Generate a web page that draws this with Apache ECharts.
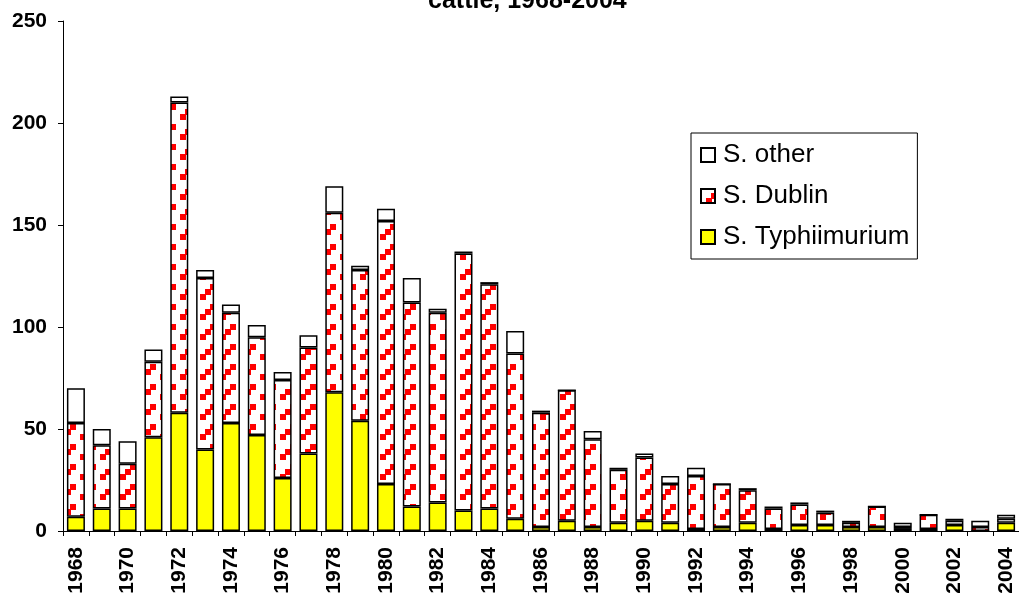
<!DOCTYPE html>
<html>
<head>
<meta charset="utf-8">
<script src="https://cdn.jsdelivr.net/npm/echarts@6/dist/echarts.min.js"></script>
<style>
  html, body { margin: 0; padding: 0; background: #fff; }
  #chart { width: 1019px; height: 598px; }
</style>
</head>
<body>
<div id="chart"></div>
<script>
// years on the x axis
const years = [
  '1968', '1969', '1970', '1971', '1972', '1973', '1974', '1975', '1976', '1977',
  '1978', '1979', '1980', '1981', '1982', '1983', '1984', '1985', '1986', '1987',
  '1988', '1989', '1990', '1991', '1992', '1993', '1994', '1995', '1996', '1997',
  '1998', '1999', '2000', '2001', '2002', '2003', '2004'
]

// isolations per year
const typhimurium = [
  7, 11, 11, 46, 58, 40, 53, 47, 26, 38,
  68, 54, 23, 12, 14, 10, 11, 6, 2, 5,
  2, 4, 5, 4, 1, 2, 4, 1, 3, 3,
  2, 2, 1, 1, 3, 0, 4
]
const dublin = [
  46, 31, 22, 37, 152, 84, 54, 48, 48, 52,
  88, 74, 129, 100, 93, 126, 110, 81, 56, 64,
  43, 26, 31, 19, 26, 21, 16, 10, 10, 6,
  2, 10, 1, 7, 2, 2, 2
]
const other = [
  17, 8, 11, 6, 3, 4, 4, 6, 4, 6,
  13, 2, 6, 12, 2, 1, 1, 11, 1, 0,
  4, 1, 2, 4, 4, 0, 1, 1, 1, 1,
  1, 0, 2, 0, 1, 3, 2
]

const FONT = 'Arial, "Liberation Sans", sans-serif'

// red dashed upward-diagonal pattern used for S. Dublin
// squares stepping up-right, 3 on / 1 off
function makeDublinPattern() {
  const c = document.createElement('canvas')
  c.width = 20
  c.height = 20
  const ctx = c.getContext('2d')
  ctx.fillStyle = '#ffffff'
  ctx.fillRect(0, 0, 20, 20)
  ctx.fillStyle = '#ff0000'
  for (let i = 0; i < 3; i++) {
    ctx.fillRect(i * 5, 14 - i * 5, 6, 6)
  }
  return c
}

const barBorder = { borderColor: '#000', borderWidth: 1.5 }

const chart = echarts.init(document.getElementById('chart'))
chart.setOption({
  animation: false,
  title: {
    text: 'cattle, 1968-2004',
    left: 423, top: -16,
    textStyle: { fontFamily: FONT, fontSize: 25, fontWeight: 'bold', color: '#000' }
  },
  legend: {
    data: ['S. other', 'S. Dublin', 'S. Typhiimurium'],
    orient: 'vertical',
    left: 691, top: 133,
    padding: [9, 8, 9, 9],
    itemGap: 15,
    itemWidth: 14, itemHeight: 14,
    icon: 'rect',
    borderColor: '#000', borderWidth: 1,
    textStyle: { fontFamily: FONT, fontSize: 26, color: '#000', padding: [0, 0, 0, 3] }
  },
  grid: { left: 63, top: 21, width: 958, height: 510, containLabel: false },
  xAxis: {
    type: 'category',
    data: years,
    axisLine: { lineStyle: { color: '#000', width: 1 } },
    axisTick: { show: true, interval: 0, length: 5, lineStyle: { color: '#000' } },
    axisLabel: {
      interval: 1, rotate: 90, margin: 16,
      fontFamily: FONT, fontSize: 21, fontWeight: 'bold', color: '#000'
    }
  },
  yAxis: {
    type: 'value',
    min: 0, max: 250, interval: 50,
    axisLine: { show: true, lineStyle: { color: '#000', width: 1 } },
    axisTick: { show: true, length: 5, lineStyle: { color: '#000' } },
    splitLine: { show: false },
    axisLabel: { margin: 16, fontFamily: FONT, fontSize: 21, fontWeight: 'bold', color: '#000' }
  },
  series: [
    {
      name: 'S. Typhiimurium', type: 'bar', stack: 'total',
      data: typhimurium, barWidth: 18,
      itemStyle: Object.assign({ color: '#ffff00' }, barBorder)
    },
    {
      name: 'S. Dublin', type: 'bar', stack: 'total',
      data: dublin, barWidth: 18,
      itemStyle: Object.assign({ color: { image: makeDublinPattern(), repeat: 'repeat' } }, barBorder)
    },
    {
      name: 'S. other', type: 'bar', stack: 'total',
      data: other, barWidth: 18,
      itemStyle: Object.assign({ color: '#ffffff' }, barBorder)
    }
  ]
})
</script>
</body>
</html>
